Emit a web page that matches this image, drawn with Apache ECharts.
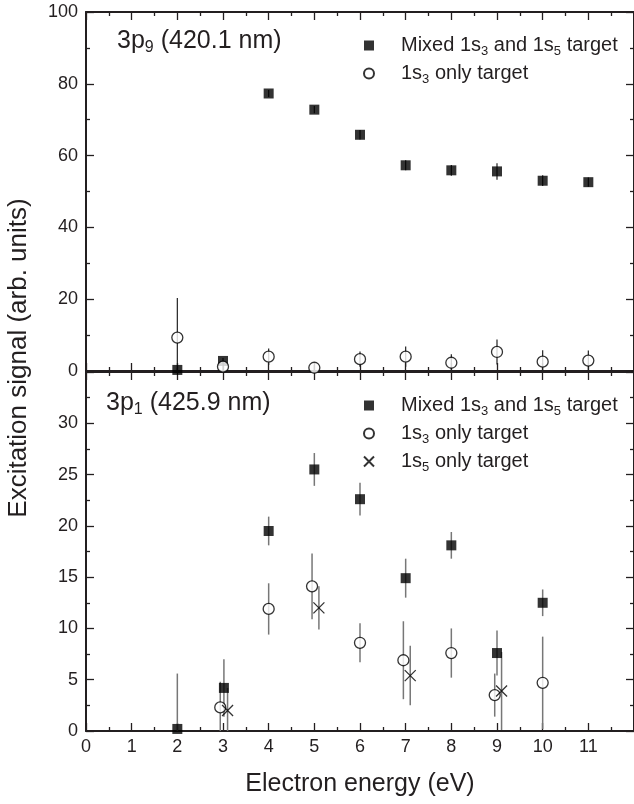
<!DOCTYPE html>
<html>
<head>
<meta charset="utf-8">
<script src="https://cdn.jsdelivr.net/npm/echarts@6/dist/echarts.min.js"></script>
<style>
  html, body { margin: 0; padding: 0; background: #fff; }
  #chart { width: 634px; height: 804px; }
</style>
</head>
<body>
<div id="chart"></div>
<script>
// top panel: 3p9 (420.1 nm)
const topX = [2, 3, 4, 5, 6, 7, 8, 9, 10, 11];
const topMixed = [0.3, 2.8, 77.3, 72.8, 65.8, 57.3, 55.9, 55.6, 53.0, 52.6];
const topMixedErr = [0.5, 0.8, 1.0, 1.0, 1.3, 1.4, 1.5, 2.3, 1.5, 1.3];
const topOnly3 = [9.3, 1.2, 4.0, 0.9, 3.3, 4.0, 2.3, 5.3, 2.6, 2.9];
const topOnly3Err = [11.0, 1.0, 2.3, 0.8, 2.1, 2.8, 2.4, 3.5, 3.2, 2.8];

// bottom panel: 3p1 (425.9 nm)
const botMixedX = [2, 3.02, 4, 5, 6, 7, 8, 9, 10];
const botMixed = [0.2, 4.2, 19.5, 25.5, 22.6, 14.9, 18.1, 7.6, 12.5];
const botMixedErr = [5.4, 2.8, 1.4, 1.6, 1.6, 1.9, 1.3, 2.2, 1.3];
const botOnly3X = [2.94, 4, 4.95, 6, 6.95, 8, 8.95, 10];
const botOnly3 = [2.3, 11.9, 14.1, 8.6, 6.9, 7.6, 3.5, 4.7];
const botOnly3Err = [2.5, 2.5, 3.2, 1.9, 3.8, 2.4, 2.1, 4.5];
const botOnly5X = [3.1, 5.1, 7.1, 9.1];
const botOnly5 = [2.0, 12.0, 5.4, 3.9];
const botOnly5Err = [2.2, 2.1, 2.9, 3.8];

const ink = '#231f20';
const font = 'Liberation Sans, Arial, Helvetica, sans-serif';
const crossPath = 'path://M0,0L10,10M10,0L0,10';

const chart = echarts.init(document.getElementById('chart'), null, { renderer: 'canvas' });

const legendNames = {
  mixed9: '{p| }{t|Mixed 1s}{s|3}{t| and 1s}{s|5}{t| target}',
  only3_9: '{p| }{t|1s}{s|3}{t| only target}',
  mixed1: '{p| }{t|Mixed 1s}{s|3}{t| and 1s}{s|5}{t| target}',
  only3_1: '{p| }{t|1s}{s|3}{t| only target}',
  only5_1: '{p| }{t|1s}{s|5}{t| only target}'
};
const rich = {
  p: { width: 22 },
  t: { fontSize: 20, fontFamily: font, color: ink, lineHeight: 24 },
  s: { fontSize: 13, fontFamily: font, color: ink, lineHeight: 24, padding: [12, 0, 0, 0] }
};
const titleRich = {
  t: { fontSize: 25, fontFamily: font, fontWeight: 'normal', color: ink, lineHeight: 30 },
  s: { fontSize: 16, fontFamily: font, fontWeight: 'normal', color: ink, lineHeight: 30, padding: [14, 0, 0, 0] }
};

function pts(xs, ys) {
  return xs.map((x, i) => [x, ys[i]]);
}

function errBars(xs, ys, es, idx, color, width) {
  return {
    type: 'custom',
    xAxisIndex: idx,
    yAxisIndex: idx,
    silent: true,
    z: 1,
    data: xs.map((x, i) => [x, Math.max(0, ys[i] - es[i]), ys[i] + es[i]]),
    renderItem: function (params, api) {
      const a = api.coord([api.value(0), api.value(1)]);
      const b = api.coord([api.value(0), api.value(2)]);
      return {
        type: 'line',
        shape: { x1: a[0], y1: a[1], x2: b[0], y2: b[1] },
        style: { stroke: color, lineWidth: width }
      };
    }
  };
}

function xAx(grid, pos, showLabel, name) {
  return {
    type: 'value', gridIndex: grid, position: pos,
    min: 0, max: 12, interval: 1,
    name: name || '', nameLocation: 'middle', nameGap: 41,
    nameTextStyle: { fontSize: 25, fontFamily: font, color: ink },
    axisLine: { show: true, onZero: false, lineStyle: { color: ink, width: 2 } },
    axisTick: { show: true, inside: true, length: 8, lineStyle: { color: ink, width: 1.3 } },
    minorTick: { show: true, splitNumber: 2, length: 4, lineStyle: { color: ink, width: 1.3 } },
    axisLabel: { show: showLabel, margin: 7, fontSize: 18, fontFamily: font, color: ink, showMaxLabel: false },
    splitLine: { show: false }
  };
}

function yAx(grid, pos, max, interval, showLabel, showMax) {
  return {
    type: 'value', gridIndex: grid, position: pos,
    min: 0, max: max, interval: interval,
    axisLine: { show: true, onZero: false, lineStyle: { color: ink, width: 2 } },
    axisTick: { show: true, inside: true, length: 8, lineStyle: { color: ink, width: 1.3 } },
    minorTick: { show: true, splitNumber: 2, length: 4, lineStyle: { color: ink, width: 1.3 } },
    axisLabel: { show: showLabel, margin: 8, fontSize: 18, fontFamily: font, color: ink, showMaxLabel: showMax },
    splitLine: { show: false }
  };
}

const squareStyle = { color: '#000' };
const circleStyle = { color: '#fff', borderColor: '#000', borderWidth: 1.3 };
const crossStyle = { color: '#000', borderColor: '#000', borderWidth: 1.3 };

const option = {
  animation: false,
  backgroundColor: '#fff',
  grid: [
    { left: 86, top: 12, width: 554, height: 359 },
    { left: 86, top: 372, width: 554, height: 359 }
  ],
  xAxis: [
    xAx(0, 'bottom', false),
    xAx(0, 'top', false),
    xAx(1, 'bottom', true, 'Electron energy (eV)'),
    xAx(1, 'top', false)
  ],
  yAxis: [
    yAx(0, 'left', 100, 20, true, true),
    yAx(0, 'right', 100, 20, false, false),
    yAx(1, 'left', 35, 5, true, false),
    yAx(1, 'right', 35, 5, false, false)
  ],
  title: [
    {
      text: '{t|3p}{s|9}{t| (420.1 nm)}', left: 112, top: 21,
      textStyle: { fontWeight: 'normal', rich: titleRich }
    },
    {
      text: '{t|3p}{s|1}{t| (425.9 nm)}', left: 101, top: 383,
      textStyle: { fontWeight: 'normal', rich: titleRich }
    }
  ],
  legend: [
    {
      data: [
        { name: 'mixed9', icon: 'rect' },
        { name: 'only3_9', icon: 'circle' }
      ],
      orient: 'vertical', left: 358, top: 28, itemWidth: 10, itemHeight: 10, itemGap: 3,
      selectedMode: false,
      formatter: n => legendNames[n],
      textStyle: { rich: rich }
    },
    {
      data: [
        { name: 'mixed1', icon: 'rect' },
        { name: 'only3_1', icon: 'circle' },
        { name: 'only5_1', icon: crossPath }
      ],
      orient: 'vertical', left: 358, top: 388, itemWidth: 10, itemHeight: 10, itemGap: 3,
      selectedMode: false,
      formatter: n => legendNames[n],
      textStyle: { rich: rich }
    }
  ],
  graphic: [
    {
      type: 'text', x: 19, y: 358, rotation: Math.PI / 2,
      style: {
        text: 'Excitation signal (arb. units)', fill: ink,
        font: '26px ' + font, textAlign: 'center', textVerticalAlign: 'middle'
      }
    }
  ],
  series: [
    errBars(topX, topMixed, topMixedErr, 0, '#222', 1.2),
    errBars(topX, topOnly3, topOnly3Err, 0, '#222', 1.2),
    errBars(botMixedX, botMixed, botMixedErr, 2, '#777', 1.5),
    errBars(botOnly3X, botOnly3, botOnly3Err, 2, '#777', 1.5),
    errBars(botOnly5X, botOnly5, botOnly5Err, 2, '#777', 1.5),
    {
      name: 'mixed9', type: 'scatter', xAxisIndex: 0, yAxisIndex: 0, z: 3,
      symbol: 'rect', symbolSize: 10, itemStyle: squareStyle,
      data: pts(topX, topMixed)
    },
    {
      name: 'only3_9', type: 'scatter', xAxisIndex: 0, yAxisIndex: 0, z: 4,
      symbol: 'circle', symbolSize: 11, itemStyle: circleStyle,
      data: pts(topX, topOnly3)
    },
    {
      name: 'mixed1', type: 'scatter', xAxisIndex: 2, yAxisIndex: 2, z: 3,
      symbol: 'rect', symbolSize: 10, itemStyle: squareStyle,
      data: pts(botMixedX, botMixed)
    },
    {
      name: 'only3_1', type: 'scatter', xAxisIndex: 2, yAxisIndex: 2, z: 4,
      symbol: 'circle', symbolSize: 11, itemStyle: circleStyle,
      data: pts(botOnly3X, botOnly3)
    },
    {
      name: 'only5_1', type: 'scatter', xAxisIndex: 2, yAxisIndex: 2, z: 4,
      symbol: crossPath, symbolSize: 11, itemStyle: crossStyle,
      data: pts(botOnly5X, botOnly5)
    }
  ]
};

chart.setOption(option);
</script>
</body>
</html>
